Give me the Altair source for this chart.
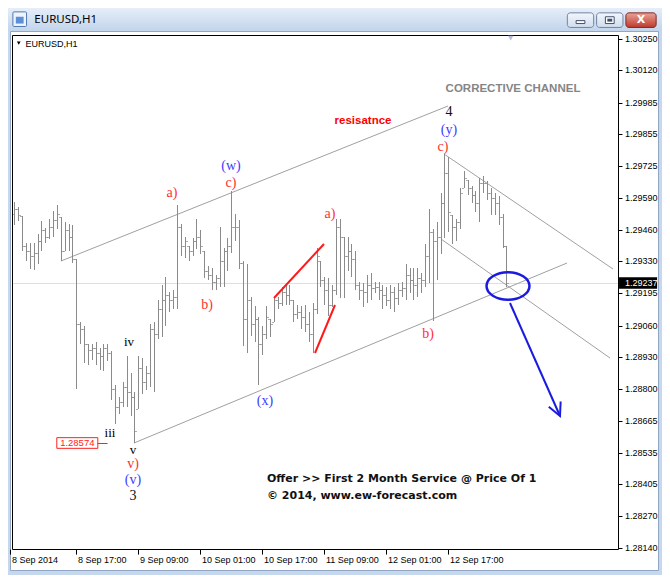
import altair as alt
import pandas as pd

# ---------------- data (EURUSD H1, hours counted from 8 Sep 2014 00:00) ----------------
BAR_INDEX = list(range(1, 129))
OPEN = [1.29524, 1.29544, 1.29516, 1.29391, 1.29371, 1.29350, 1.29362, 1.29411, 1.29459, 1.29431,
        1.29471, 1.29500, 1.29512, 1.29371, 1.29459, 1.29431, 1.29338, 1.29068, 1.29048, 1.28987,
        1.28959, 1.28967, 1.28947, 1.28935, 1.28967, 1.28947, 1.28798, 1.28725, 1.28745, 1.28806,
        1.28786, 1.28766, 1.28717, 1.28887, 1.28826, 1.28866, 1.29048, 1.29028, 1.29129, 1.29169,
        1.29189, 1.29169, 1.29181, 1.29471, 1.29391, 1.29391, 1.29371, 1.29411, 1.29431, 1.29371,
        1.29290, 1.29270, 1.29242, 1.29258, 1.29330, 1.29371, 1.29391, 1.29471, 1.29471, 1.29322,
        1.29088, 1.29169, 1.29068, 1.29088, 1.28987, 1.29028, 1.29088, 1.29076, 1.29169, 1.29157,
        1.29201, 1.29189, 1.29169, 1.29108, 1.29120, 1.29096, 1.29068, 1.29028, 1.29129, 1.29330,
        1.29250, 1.29209, 1.29149, 1.29209, 1.29471, 1.29431, 1.29350, 1.29371, 1.29338, 1.29229,
        1.29209, 1.29201, 1.29229, 1.29217, 1.29221, 1.29209, 1.29189, 1.29169, 1.29201, 1.29177,
        1.29209, 1.29217, 1.29270, 1.29250, 1.29229, 1.29258, 1.29250, 1.29350, 1.29451, 1.29411,
        1.29431, 1.29572, 1.29693, 1.29520, 1.29471, 1.29492, 1.29633, 1.29665, 1.29633, 1.29605,
        1.29572, 1.29653, 1.29653, 1.29613, 1.29592, 1.29572, 1.29512, 1.29391]
HIGH = [1.29576, 1.29552, 1.29516, 1.29403, 1.29403, 1.29403, 1.29443, 1.29496, 1.29467, 1.29504,
        1.29536, 1.29560, 1.29512, 1.29492, 1.29483, 1.29479, 1.29338, 1.29076, 1.29060, 1.28987,
        1.28987, 1.28995, 1.28967, 1.28987, 1.28987, 1.28955, 1.28814, 1.28766, 1.28826, 1.28935,
        1.28866, 1.28786, 1.28935, 1.28927, 1.28895, 1.29068, 1.29076, 1.29169, 1.29229, 1.29262,
        1.29201, 1.29209, 1.29560, 1.29483, 1.29431, 1.29391, 1.29423, 1.29504, 1.29459, 1.29371,
        1.29310, 1.29302, 1.29270, 1.29471, 1.29383, 1.29423, 1.29621, 1.29524, 1.29500, 1.29330,
        1.29318, 1.29181, 1.29141, 1.29096, 1.29060, 1.29141, 1.29088, 1.29181, 1.29181, 1.29221,
        1.29229, 1.29229, 1.29169, 1.29149, 1.29141, 1.29149, 1.29120, 1.29157, 1.29383, 1.29330,
        1.29262, 1.29258, 1.29229, 1.29504, 1.29504, 1.29431, 1.29431, 1.29399, 1.29371, 1.29242,
        1.29237, 1.29270, 1.29278, 1.29242, 1.29242, 1.29229, 1.29221, 1.29229, 1.29221, 1.29237,
        1.29242, 1.29318, 1.29302, 1.29302, 1.29302, 1.29278, 1.29399, 1.29544, 1.29463, 1.29492,
        1.29613, 1.29774, 1.29762, 1.29520, 1.29504, 1.29633, 1.29701, 1.29665, 1.29641, 1.29621,
        1.29673, 1.29681, 1.29661, 1.29633, 1.29613, 1.29601, 1.29524, 1.29391]
LOW = [1.29479, 1.29496, 1.29371, 1.29330, 1.29298, 1.29294, 1.29318, 1.29371, 1.29403, 1.29419,
       1.29431, 1.29463, 1.29330, 1.29371, 1.29371, 1.29322, 1.28798, 1.28987, 1.28907, 1.28899,
       1.28919, 1.28899, 1.28878, 1.28874, 1.28915, 1.28753, 1.28653, 1.28693, 1.28725, 1.28725,
       1.28685, 1.28574, 1.28717, 1.28778, 1.28794, 1.28806, 1.28786, 1.29008, 1.29016, 1.29060,
       1.29116, 1.29129, 1.29129, 1.29350, 1.29342, 1.29330, 1.29350, 1.29379, 1.29358, 1.29258,
       1.29250, 1.29209, 1.29209, 1.29221, 1.29221, 1.29290, 1.29362, 1.29411, 1.29298, 1.28979,
       1.28947, 1.29020, 1.28995, 1.28814, 1.28939, 1.29008, 1.29016, 1.29076, 1.29129, 1.29141,
       1.29149, 1.29149, 1.29076, 1.29088, 1.29048, 1.29036, 1.28995, 1.28947, 1.29108, 1.29221,
       1.29149, 1.29100, 1.29137, 1.29189, 1.29177, 1.29177, 1.29290, 1.29262, 1.29209, 1.29169,
       1.29137, 1.29157, 1.29169, 1.29197, 1.29169, 1.29129, 1.29141, 1.29129, 1.29120, 1.29149,
       1.29181, 1.29169, 1.29197, 1.29169, 1.29181, 1.29197, 1.29221, 1.29237, 1.29080, 1.29250,
       1.29358, 1.29423, 1.29451, 1.29399, 1.29411, 1.29463, 1.29633, 1.29605, 1.29572, 1.29532,
       1.29492, 1.29613, 1.29584, 1.29520, 1.29520, 1.29479, 1.29383, 1.29221]
CLOSE = [1.29544, 1.29520, 1.29391, 1.29371, 1.29350, 1.29362, 1.29411, 1.29459, 1.29431, 1.29471,
         1.29500, 1.29524, 1.29371, 1.29459, 1.29431, 1.29338, 1.29068, 1.29048, 1.28987, 1.28959,
         1.28967, 1.28947, 1.28935, 1.28967, 1.28947, 1.28798, 1.28725, 1.28745, 1.28806, 1.28786,
         1.28766, 1.28624, 1.28887, 1.28826, 1.28866, 1.29048, 1.29028, 1.29129, 1.29169, 1.29189,
         1.29169, 1.29181, 1.29471, 1.29391, 1.29411, 1.29371, 1.29411, 1.29431, 1.29391, 1.29290,
         1.29270, 1.29242, 1.29258, 1.29330, 1.29371, 1.29391, 1.29471, 1.29471, 1.29322, 1.29088,
         1.29169, 1.29068, 1.29088, 1.28987, 1.29028, 1.29096, 1.29068, 1.29169, 1.29157, 1.29201,
         1.29189, 1.29169, 1.29108, 1.29120, 1.29096, 1.29068, 1.29028, 1.29129, 1.29350, 1.29250,
         1.29209, 1.29149, 1.29209, 1.29471, 1.29431, 1.29350, 1.29371, 1.29338, 1.29229, 1.29209,
         1.29201, 1.29229, 1.29217, 1.29221, 1.29209, 1.29189, 1.29169, 1.29201, 1.29177, 1.29209,
         1.29217, 1.29270, 1.29250, 1.29229, 1.29258, 1.29250, 1.29350, 1.29451, 1.29411, 1.29431,
         1.29572, 1.29693, 1.29532, 1.29471, 1.29492, 1.29613, 1.29673, 1.29633, 1.29605, 1.29572,
         1.29653, 1.29653, 1.29613, 1.29592, 1.29572, 1.29512, 1.29391, 1.29237]

TIME_TICK_BARS = [0, 17, 33, 49, 65, 81, 97, 113]
TIME_TICK_LABELS = ["8 Sep 2014", "8 Sep 17:00", "9 Sep 09:00", "10 Sep 01:00",
                    "10 Sep 17:00", "11 Sep 09:00", "12 Sep 01:00", "12 Sep 17:00"]
PRICE_TICKS = [1.30250, 1.30120, 1.29985, 1.29855, 1.29725, 1.29590, 1.29460, 1.29330, 1.29195,
               1.29060, 1.28930, 1.28800, 1.28665, 1.28535, 1.28405, 1.28270, 1.28140]
LAST_PRICE = 1.29237
LOW_PRICE = 1.28574

CHANNEL_X1 = [13, 32, 112, 111]
CHANNEL_P1 = [1.29330, 1.28574, 1.29774, 1.29419]
CHANNEL_X2 = [113, 143.5, 155.5, 154.8]
CHANNEL_P2 = [1.29972, 1.29322, 1.29298, 1.28927]

RED_X1 = [68, 78.7]
RED_P1 = [1.29177, 1.28947]
RED_X2 = [81, 83.7]
RED_P2 = [1.29399, 1.29149]

ARROW_X = [128.8, 141.9]
ARROW_P = [1.29157, 1.28685]
TARGET_X = [128.3]
TARGET_P = [1.29225]

WAVE_TEXT = ["4", "(y)", "c)", "(w)", "c)", "a)", "b)", "a)", "(x)", "b)", "v)", "(v)", "3"]
WAVE_X = [113.2, 113.2, 111.7, 57.0, 56.8, 41.7, 50.8, 82.5, 65.6, 107.7, 31.6, 31.6, 31.6]
WAVE_P = [1.29947, 1.29875, 1.29802, 1.29722, 1.29653, 1.29613, 1.29149, 1.29524, 1.28749,
          1.29028, 1.28487, 1.28423, 1.28354]
WAVE_DEGREE = ["primary", "intermediate", "minor", "intermediate", "minor", "minor", "minor",
               "minor", "intermediate", "minor", "minor", "intermediate", "primary"]
SUB_TEXT = ["iv", "iii", "v"]
SUB_X = [30.6, 25.8, 31.6]
SUB_P = [1.28995, 1.28616, 1.28544]

# ---------------- layout helpers ----------------
W, H = 654, 567
KX, KY = W / 670.0, H / 583.0


def vx(x):
    return alt.value(round(x * KX, 2))


def vy(y):
    return alt.value(round(y * KY, 2))


def cx(x):
    return alt.value(int(x * KX) + 0.5)


def cy(y):
    return alt.value(int(y * KY) + 0.5)


one = pd.DataFrame({"k": [0]})
XS = alt.Scale(domain=[0, 160], range=[2.5 * KX, (2.5 + 3.97 * 160) * KX], round=True, nice=False, zero=False)
YS = alt.Scale(domain=[1.28140, 1.30250], range=[555 * KY, 32 * KY], round=True, nice=False, zero=False)


def X(f):
    return alt.X(f, type="quantitative", scale=XS, axis=None)


def Y(f):
    return alt.Y(f, type="quantitative", scale=YS, axis=None)


def prect(x1, y1, x2, y2, crisp=False, **mk):
    fx, fy = (cx, cy) if crisp else (vx, vy)
    return alt.Chart(one).mark_rect(**mk).encode(x=fx(x1), x2=fx(x2), y=fy(y1), y2=fy(y2))


def ptext(x, y, s, **mk):
    return alt.Chart(one).mark_text(text=s, **mk).encode(x=vx(x), y=vy(y))


def grad(c1, c2):
    return {"gradient": "linear", "x1": 0, "y1": 0, "x2": 0, "y2": 1,
            "stops": [{"offset": 0, "color": c1}, {"offset": 1, "color": c2}]}


layers = []
# window chrome
layers.append(prect(0, 0, 670, 23, fill=grad("#e6eef9", "#c3d5ec")))
layers.append(prect(5, 4, 19, 19, fill="#eef4fb", stroke="#4f78b3", strokeWidth=1, cornerRadius=1))
layers.append(prect(8, 9, 16, 16, fill="#5c8fd6"))
layers.append(ptext(27, 12, "EURUSD,H1", align="left", baseline="middle", font="Noto Sans", fontSize=11.5, color="#000000"))
layers.append(prect(573, 5, 600, 20, fill=grad("#f4f7fc", "#cfdcee"), stroke="#6f84a3", strokeWidth=1, cornerRadius=3))
layers.append(prect(603, 5, 630, 20, fill=grad("#f4f7fc", "#cfdcee"), stroke="#6f84a3", strokeWidth=1, cornerRadius=3))
layers.append(prect(633, 5, 664, 20, fill=grad("#e9a39a", "#c0392b"), stroke="#7d2a22", strokeWidth=1, cornerRadius=3))
layers.append(prect(582, 13, 591, 16, fill="#ffffff", stroke="#40506a", strokeWidth=1))
layers.append(prect(612, 9, 621, 16, fill="#ffffff", stroke="#40506a", strokeWidth=1))
layers.append(prect(614, 11, 619, 14, fill="#40506a"))
layers.append(ptext(648.5, 12.5, "X", align="center", baseline="middle", font="DejaVu Sans", fontSize=11, fontWeight="bold", color="#ffffff"))
layers.append(prect(3, 24, 666, 578, crisp=True, fill="#ffffff", stroke="#93a7c4", strokeWidth=1))

# current-price line (behind bars)
lp = pd.DataFrame({"p": [LAST_PRICE]})
layers.append(alt.Chart(lp).mark_rule(color="#dcdcf4", strokeWidth=1, yOffset=0.5).encode(x=vx(5), x2=vx(625), y=Y("p")))

# channel lines
ch = pd.DataFrame({"x1": CHANNEL_X1, "p1": CHANNEL_P1, "x2": CHANNEL_X2, "p2": CHANNEL_P2})
layers.append(alt.Chart(ch).mark_rule(color="#a0a0a0", strokeWidth=1).encode(
    x=X("x1"), y=Y("p1"), x2=alt.X2("x2"), y2=alt.Y2("p2")))

# OHLC bars
BAR_COLOR = "#8a8a8a"
bars = pd.DataFrame({"i": BAR_INDEX, "o": OPEN, "h": HIGH, "l": LOW, "c": CLOSE})
layers.append(alt.Chart(bars).mark_rule(color=BAR_COLOR, strokeWidth=1, xOffset=0.5).encode(
    x=X("i"), y=Y("l"), y2=alt.Y2("h")))
layers.append(alt.Chart(bars).mark_tick(color=BAR_COLOR, orient="horizontal", size=2, thickness=1,
                                        xOffset=-1, yOffset=0.5).encode(x=X("i"), y=Y("o")))
layers.append(alt.Chart(bars).mark_tick(color=BAR_COLOR, orient="horizontal", size=2, thickness=1,
                                        xOffset=2, yOffset=0.5).encode(x=X("i"), y=Y("c")))

# hand-drawn red lines
rl = pd.DataFrame({"x1": RED_X1, "p1": RED_P1, "x2": RED_X2, "p2": RED_P2})
layers.append(alt.Chart(rl).mark_rule(color="#ff1a1a", strokeWidth=2).encode(
    x=X("x1"), y=Y("p1"), x2=alt.X2("x2"), y2=alt.Y2("p2")))

# blue target ellipse and arrow
tg = pd.DataFrame({"x": TARGET_X, "p": TARGET_P})
ELLIPSE = "M -1 0 A 1 0.64 0 1 0 1 0 A 1 0.64 0 1 0 -1 0 Z"
layers.append(alt.Chart(tg).mark_point(shape=ELLIPSE, size=(44 * KX) ** 2, filled=False, color="#1b1be0",
                                       strokeWidth=2.5, opacity=1).encode(x=X("x"), y=Y("p")))
ar = pd.DataFrame({"x1": [ARROW_X[0]], "p1": [ARROW_P[0]], "x2": [ARROW_X[1]], "p2": [ARROW_P[1]]})
layers.append(alt.Chart(ar).mark_rule(color="#1b1be0", strokeWidth=2).encode(
    x=X("x1"), y=Y("p1"), x2=alt.X2("x2"), y2=alt.Y2("p2")))
ah = pd.DataFrame({"x": [ARROW_X[1]], "p": [ARROW_P[1]]})
layers.append(alt.Chart(ah).mark_point(shape="M -0.5 -1 L 0 0 L 0.5 -1", size=676, filled=False, color="#1b1be0",
                                       strokeWidth=2, angle=336, opacity=1).encode(x=X("x"), y=Y("p")))

# wave labels
wv = pd.DataFrame({"t": WAVE_TEXT, "x": WAVE_X, "p": WAVE_P, "deg": WAVE_DEGREE})
layers.append(alt.Chart(wv).mark_text(font="Liberation Serif", fontSize=14, baseline="middle", align="center").encode(
    x=X("x"), y=Y("p"), text="t:N",
    color=alt.Color("deg:N", scale=alt.Scale(domain=["primary", "intermediate", "minor"],
                                             range=["#111111", "#3d3dff", "#ff3030"]), legend=None)))
sb = pd.DataFrame({"t": SUB_TEXT, "x": SUB_X, "p": SUB_P})
layers.append(alt.Chart(sb).mark_text(font="Liberation Serif", fontSize=13, baseline="middle", align="center",
                                      color="#000000").encode(x=X("x"), y=Y("p"), text="t:N"))

# text notes
def dtext(x, p, s, **mk):
    return alt.Chart(pd.DataFrame({"x": [x], "p": [p]})).mark_text(text=s, **mk).encode(x=X("x"), y=Y("p"))


layers.append(dtext(129.8, 1.30044, "CORRECTIVE CHANNEL", font="Liberation Sans", fontSize=11.5, fontWeight="bold",
                    color="#858585", align="center", baseline="middle"))
layers.append(dtext(91.1, 1.29911, "resisatnce", font="Liberation Sans", fontSize=11.5, fontWeight="bold",
                    color="#ff0000", align="center", baseline="middle"))
layers.append(dtext(66.1, 1.28427, "Offer >> First 2 Month Service @ Price Of 1", font="DejaVu Sans", fontSize=11,
                    fontWeight="bold", color="#111111", align="left", baseline="middle"))
layers.append(dtext(66.1, 1.28354, "\u00a9 2014, www.ew-forecast.com", font="DejaVu Sans", fontSize=11,
                    fontWeight="bold", color="#111111", align="left", baseline="middle"))

# low price label
lo = pd.DataFrame({"p": [LOW_PRICE]})
BOX = "M -1 -0.26 L 1 -0.26 L 1 0.26 L -1 0.26 Z"
layers.append(alt.Chart(lo).mark_point(shape=BOX, size=(42 * KX) ** 2, filled=True, fill="#ffffff", stroke="#ff2020",
                                       strokeWidth=1, opacity=1).encode(x=vx(71), y=Y("p")))
layers.append(alt.Chart(lo).mark_text(text="1.28574", font="Liberation Sans", fontSize=9.5, color="#ff2020",
                                      align="center", baseline="middle").encode(x=vx(71), y=Y("p")))
layers.append(alt.Chart(lo).mark_rule(color="#ff2020", strokeWidth=1, yOffset=0.5).encode(x=vx(92), x2=vx(102), y=Y("p")))

# plot frame
layers.append(prect(5, 28, 625, 557, crisp=True, fill=None, fillOpacity=0, stroke="#000000", strokeWidth=1))
layers.append(alt.Chart(one).mark_point(shape="triangle-down", size=30, filled=True, color="#b4bedb", opacity=1).encode(
    x=vx(515), y=vy(31)))
layers.append(alt.Chart(one).mark_point(shape="triangle-down", size=14, filled=True, color="#000000", opacity=1).encode(
    x=vx(11), y=vy(36)))
layers.append(ptext(18, 36.5, "EURUSD,H1", align="left", baseline="middle", font="Liberation Sans", fontSize=9, color="#000000"))

# price axis
pt = pd.DataFrame({"p": PRICE_TICKS})
layers.append(alt.Chart(pt).mark_rule(color="#000000", strokeWidth=1, yOffset=0.5).encode(x=vx(625), x2=vx(629.5), y=Y("p")))
layers.append(alt.Chart(pt).mark_text(font="Liberation Sans", fontSize=9, color="#000000", align="left",
                                      baseline="middle").encode(x=vx(632), y=Y("p"), text=alt.Text("p:Q", format=".5f")))
layers.append(alt.Chart(lp).mark_point(shape="M -1 -0.3 L 1 -0.3 L 1 0.3 L -1 0.3 Z", size=(39 * KX) ** 2, filled=True,
                                       color="#000000", opacity=1).encode(x=vx(645.5), y=Y("p")))
layers.append(alt.Chart(lp).mark_text(font="Liberation Sans", fontSize=9, color="#ffffff", align="left",
                                      baseline="middle").encode(x=vx(632), y=Y("p"), text=alt.Text("p:Q", format=".5f")))

# time axis
tt = pd.DataFrame({"b": TIME_TICK_BARS, "label": TIME_TICK_LABELS})
layers.append(alt.Chart(tt).mark_rule(color="#000000", strokeWidth=1, xOffset=0.5).encode(x=X("b"), y=vy(557), y2=vy(562)))
layers.append(alt.Chart(tt).mark_text(font="Liberation Sans", fontSize=9, color="#000000", align="left",
                                      baseline="middle", dx=2).encode(x=X("b"), y=vy(567.5), text="label:N"))

chart = alt.layer(*layers).properties(
    width=W, height=H, padding=0, autosize=alt.AutoSizeParams(type="none"), background="#c6d8ee"
).configure_view(stroke=None)

chart.save("out.html", embed_options={"renderer": "svg", "actions": False})
